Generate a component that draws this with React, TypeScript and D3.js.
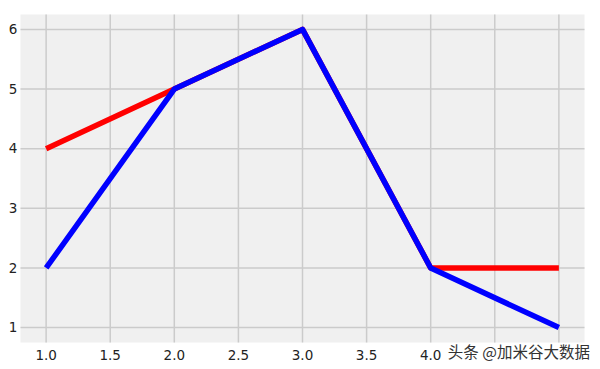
import React from "react";
import * as d3 from "d3";

const xValues = [1, 2, 3, 4, 5];
const redValues = [4, 5, 6, 2, 2];
const blueValues = [2, 5, 6, 2, 1];
const xTicks = [1.0, 1.5, 2.0, 2.5, 3.0, 3.5, 4.0, 4.5, 5.0];
const yTicks = [1, 2, 3, 4, 5, 6];
const watermark = "头条 @加米谷大数据";

export default function App() {
  const W = 600, H = 369;
  const left = 20.5, right = 584.5, top = 14.5, bottom = 342.5;
  const x = d3.scaleLinear().domain([0.8, 5.2]).range([left, right]);
  const y = d3.scaleLinear().domain([0.75, 6.25]).range([bottom, top]);
  const line = d3.line<number>().x((_, i) => x(xValues[i])).y((d) => y(d));
  const font = "'DejaVu Sans', sans-serif";
  return (
    <svg width={W} height={H} style={{ position: "absolute", left: 0, top: 0, background: "#fff" }}>
      <rect x={left} y={top} width={right - left} height={bottom - top} fill="#f0f0f0" />
      {xTicks.map((t) => (
        <line key={"gx" + t} x1={x(t)} x2={x(t)} y1={top} y2={bottom} stroke="#cbcbcb" strokeWidth={1.5} />
      ))}
      {yTicks.map((t) => (
        <line key={"gy" + t} x1={left} x2={right} y1={y(t)} y2={y(t)} stroke="#cbcbcb" strokeWidth={1.5} />
      ))}
      <path d={line(redValues) || ""} fill="none" stroke="#ff0000" strokeWidth={5.5} strokeLinejoin="round" strokeLinecap="butt" />
      <path d={line(blueValues) || ""} fill="none" stroke="#0000ff" strokeWidth={5.5} strokeLinejoin="round" strokeLinecap="butt" />
      {xTicks.filter((t) => t < 4.5).map((t) => (
        <text key={"tx" + t} x={x(t)} y={360} textAnchor="middle" fontFamily={font} fontSize={13.5} fill="#222">
          {t.toFixed(1)}
        </text>
      ))}
      {yTicks.map((t) => (
        <text key={"ty" + t} x={13} y={y(t)} dy="0.35em" textAnchor="middle" fontFamily={font} fontSize={13.5} fill="#222">
          {t}
        </text>
      ))}
      <rect x={446} y={344} width={154} height={25} fill="#fff" />
      <text x={590} y={358} textAnchor="end" fontFamily="'Noto Sans CJK SC', sans-serif" fontSize={15.5} fill="#333">
        {watermark}
      </text>
    </svg>
  );
}
